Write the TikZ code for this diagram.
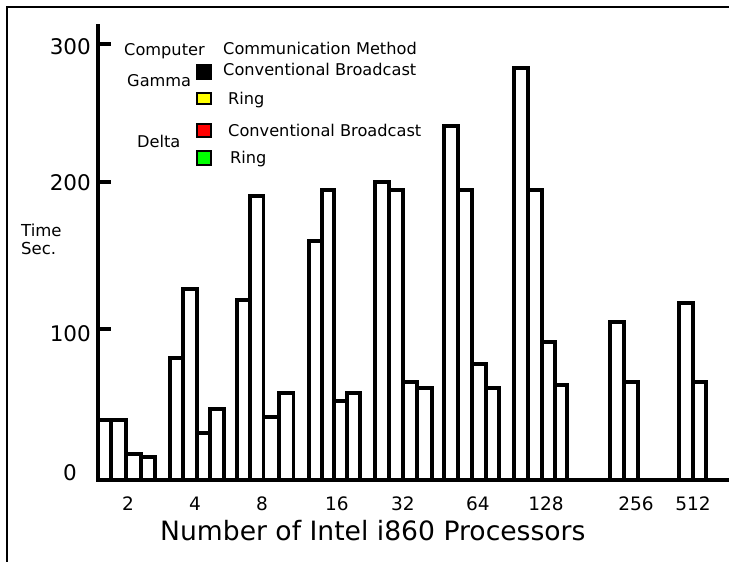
\documentclass[tikz,border=0pt]{standalone}
\usepackage{fontspec}
\setmainfont{DejaVu Sans}
\definecolor{legyellow}{RGB}{255,255,0}
\definecolor{legred}{RGB}{255,0,0}
\definecolor{leggreen}{RGB}{0,255,0}
\tikzset{
  bar/.style={draw=black, fill=white, line width=3.6pt, line join=miter},
  axisline/.style={line width=4pt},
  frameline/.style={line width=2.6pt},
  legtxt/.style={font=\fontsize{16.2}{19}\selectfont, inner sep=0pt, anchor=base west},
  ylab/.style={font=\fontsize{21.5}{24}\selectfont, inner sep=0pt, anchor=base east},
  xlab/.style={font=\fontsize{18.5}{22}\selectfont, inner sep=0pt, anchor=base},
  titletxt/.style={font=\fontsize{26.6}{30}\selectfont, inner sep=0pt, anchor=base west},
  unittxt/.style={font=\fontsize{16.5}{19}\selectfont, inner sep=0pt, anchor=base west},
  legbox/.style={line width=2pt, draw=black}
}
\begin{document}
\begin{tikzpicture}[x=1pt,y=-1pt]
\useasboundingbox (0,0) rectangle (729,562);
% frame (top and left edges)
\coordinate (fTL) at (7,7);
\coordinate (fTR) at (729,7);
\coordinate (fBL) at (7,562);
\draw[frameline] (fTR) -- (fTL) -- (fBL);
% bars: left/right/top
\foreach \l/\r/\t in {
  98/111/420, 111/126/420, 126/141/454, 141/155/457,
  170/183/358, 183/197/289, 197/210/433, 210/224/409,
  237/250/300, 250/263.5/196, 263.5/279/417, 279/293.5/393,
  309/322/241, 322/334/190, 334/347/401, 347/360/393,
  375/389/182, 389/403/190, 403/417/382, 417/432/388,
  444/458/126, 458/472/190, 472/486/364, 486/499/388,
  514/528/68, 528/542/190, 542/555/342, 555/567/385,
  610/624/322, 624/638/382,
  679/693/303, 693/706/382}
  \draw[bar] (\l,480) rectangle (\r,\t);
% axes
\coordinate (yTop) at (98,24);
\coordinate (origin) at (98,480);
\coordinate (xEnd) at (729,480);
\draw[axisline] (yTop) -- (origin);
\draw[line width=4.6pt] (origin) -- (xEnd);
\foreach \yy in {44,182,329}
  \draw[axisline] (96,\yy) -- (111,\yy);
% y labels
\node[ylab] (y300) at (91,54) {300};
\node[ylab] (y200) at (91,190) {200};
\node[ylab] (y100) at (91,341) {100};
\node[ylab] (y0) at (77,480) {0};
\node[unittxt] (time) at (21,236) {Time};
\node[unittxt] (sec) at (21,254) {Sec.};
% x labels
\foreach \xx/\lab in {128/2, 195/4, 262/8, 337/16, 403/32, 478/64, 546/128, 636/256, 693/512}
  \node[xlab] (x\lab) at (\xx,510) {\lab};
\node[titletxt] (title) at (160,540) {Number of Intel i860 Processors};
% legend
\node[legtxt] (hComp) at (124,55) {Computer};
\node[legtxt] (hMeth) at (223,54) {Communication Method};
\node[legtxt] (gamma) at (127,86) {Gamma};
\node[legtxt] (gConv) at (223,75) {Conventional Broadcast};
\node[legtxt] (gRing) at (228,104) {Ring};
\node[legtxt] (delta) at (137,147) {Delta};
\node[legtxt] (dConv) at (228,136) {Conventional Broadcast};
\node[legtxt] (dRing) at (230,163) {Ring};
\fill[black] (196,64) rectangle (212,80);
\filldraw[legbox, fill=legyellow] (197,93) rectangle (211,104);
\filldraw[legbox, fill=legred] (197,124) rectangle (211,137);
\filldraw[legbox, fill=leggreen] (197,151) rectangle (211,165);
\end{tikzpicture}
\end{document}
